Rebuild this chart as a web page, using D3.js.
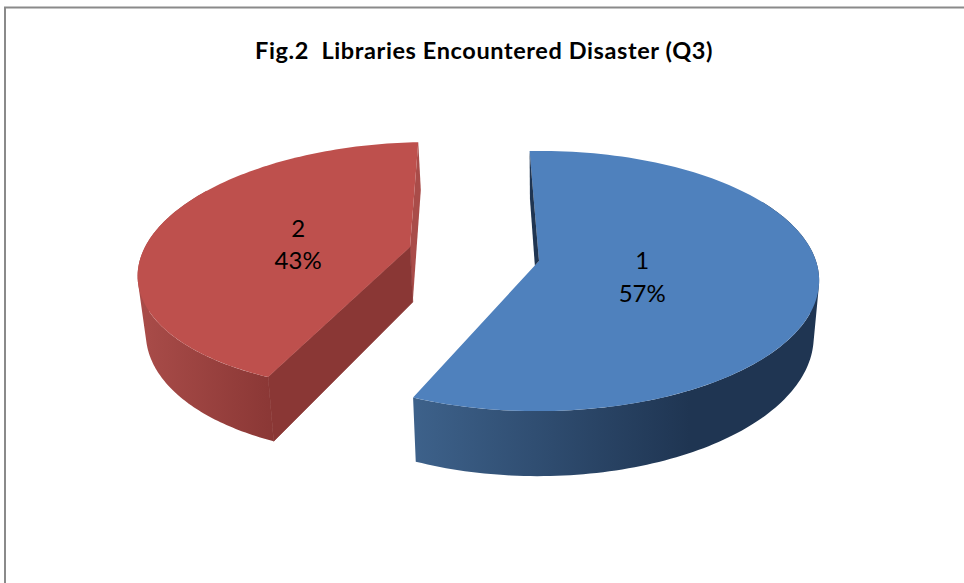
<!DOCTYPE html>
<html>
<head>
<meta charset="utf-8">
<script src="https://cdn.jsdelivr.net/npm/d3@7"></script>
<style>
html, body { margin: 0; padding: 0; background: #fff; }
svg { display: block; }
text { font-family: Lato, "Open Sans", sans-serif; fill: #000; }
</style>
</head>
<body>
<svg id="chart" width="964" height="583"></svg>
<script>
// Chart content
const chartTitle = "Fig.2  Libraries Encountered Disaster (Q3)";
const categories = ["1", "2"];
const values = [57, 43];

// Perspective pie layout: camera settings and the exploded disc of each slice
const vanishX = 547;
const perspective = 0.154;
const depth = 55;
const baseShrink = 0.98;
const firstAngle = -2.5 * Math.PI / 180;
const sliceDiscs = [
  { apexX: 539, apexY: 261, rx: 277, ry: 127, wallFrom: 60, labelAt: 0.375, labelDy: 0 },
  { apexX: 410, apexY: 247, rx: 265, ry: 121, wallTo: 300, labelAt: 0.44, labelDy: -1 }
];
const sliceColors = [
  { top: "#4f81bd", side: "#1f3552", sideLight: "#3d618a", sideStops: [416, 690] },
  { top: "#be504d", side: "#8a3735", sideLight: "#a94c49", sideStops: [140, 275] }
];

const svg = d3.select("#chart");
const defs = svg.append("defs");

// Maps a point on a unit disc (u to the right, v toward the viewer) to the page
function project(disc, u, v, lowered) {
  const w = 1 - perspective * v;
  let x = vanishX + (disc.apexX - vanishX + disc.rx * u) / w;
  let y = disc.apexY + disc.ry * v / w;
  if (lowered) {
    x = vanishX + (x - vanishX) * baseShrink;
    y += depth / w;
  }
  return [x, y];
}
const rimPoint = (disc, angle, lowered) =>
  project(disc, Math.sin(angle), -Math.cos(angle), lowered);

const pieLayout = d3.pie().sort(null).value(d => d)
  .startAngle(firstAngle).endAngle(firstAngle + 2 * Math.PI);
const slices = pieLayout(values);
const line = d3.line();

function rimSamples(disc, from, to, lowered) {
  return d3.range(0, 121).map(i => rimPoint(disc, from + (to - from) * i / 120, lowered));
}

// Extruded band: one quad per rim step, all wound the same way so the fill is their union
function wallPath(disc, from, to) {
  const upper = rimSamples(disc, from, to, false);
  const lower = rimSamples(disc, from, to, true);
  return d3.range(0, upper.length - 1).map(k => {
    const quad = [upper[k], upper[k + 1], lower[k + 1], lower[k]];
    if (d3.polygonArea(quad) < 0) quad.reverse();
    return line(quad) + "Z";
  }).join("");
}

slices.forEach((slice, i) => {
  const disc = sliceDiscs[i];
  const color = sliceColors[i];
  const g = svg.append("g");
  const a0 = slice.startAngle, a1 = slice.endAngle;
  const apexTop = project(disc, 0, 0, false);
  const apexBase = project(disc, 0, 0, true);

  const gradId = "side-" + i;
  const grad = defs.append("linearGradient").attr("id", gradId)
    .attr("gradientUnits", "userSpaceOnUse")
    .attr("x1", color.sideStops[0]).attr("x2", color.sideStops[1])
    .attr("y1", 0).attr("y2", 0);
  grad.append("stop").attr("offset", 0).attr("stop-color", color.sideLight);
  grad.append("stop").attr("offset", 1).attr("stop-color", color.side);

  // Curved outer wall
  const wallFrom = disc.wallFrom !== undefined ? disc.wallFrom * Math.PI / 180 : a0;
  const wallTo = disc.wallTo !== undefined ? disc.wallTo * Math.PI / 180 : a1;
  g.append("path").attr("d", wallPath(disc, wallFrom, wallTo)).attr("fill", `url(#${gradId})`);

  if (i === 1) {
    // Straight wall along the far edge, then the near cut face
    g.append("path")
      .attr("d", line([apexTop, rimPoint(disc, a1), rimPoint(disc, a1, true), apexBase]) + "Z")
      .attr("fill", color.sideLight);
    g.append("path")
      .attr("d", line([apexTop, rimPoint(disc, a0), rimPoint(disc, a0, true), apexBase]) + "Z")
      .attr("fill", color.side).attr("stroke", color.side).attr("stroke-width", 0.8);
  }

  // Top surface
  const top = [apexTop].concat(rimSamples(disc, a0, a1, false));
  g.append("path").attr("d", line(top) + "Z").attr("fill", color.top);

  if (i === 0) {
    // Sliver of the inner wall seen beside the top surface
    const end = rimPoint(disc, a1);
    const foot = d3.interpolateArray(apexTop, end)(0.033);
    g.append("path")
      .attr("d", line([rimPoint(disc, a0), rimPoint(disc, a0, true), foot, apexTop]) + "Z")
      .attr("fill", color.side);
  }
});

// Category and percentage labels, placed along each slice's bisector
const total = d3.sum(values);
slices.forEach((slice, i) => {
  const disc = sliceDiscs[i];
  const mid = (slice.startAngle + slice.endAngle) / 2;
  const [x, y] = project(disc, Math.sin(mid) * disc.labelAt, -Math.cos(mid) * disc.labelAt, false);
  const label = svg.append("text").attr("text-anchor", "middle").attr("font-size", 24);
  label.append("tspan").attr("x", x).attr("y", y + disc.labelDy).text(categories[i]);
  label.append("tspan").attr("x", x).attr("y", y + disc.labelDy + 32.5)
    .text(Math.round(values[i] / total * 100) + "%");
});

// Title
svg.append("text").attr("x", 484).attr("y", 59)
  .attr("text-anchor", "middle").attr("font-size", 23.5).attr("font-weight", 700)
  .attr("letter-spacing", 0.6)
  .style("white-space", "pre").text(chartTitle);

// Chart area border
const frameTop = 7.5, frameLeft = 5;
svg.append("path")
  .attr("d", d3.line()([[frameLeft, 583], [frameLeft, frameTop], [964, frameTop]]))
  .attr("fill", "none").attr("stroke", "#8a8a8a").attr("stroke-width", 2);
</script>
</body>
</html>
